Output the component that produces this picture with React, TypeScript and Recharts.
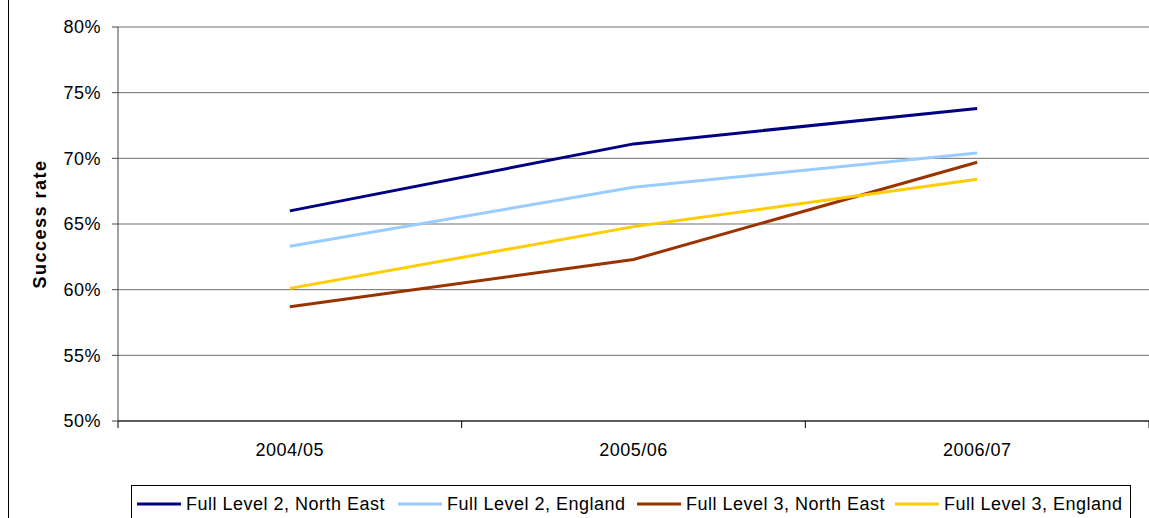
import { CartesianGrid, Legend, Line, LineChart, XAxis, YAxis } from "recharts";

// Values (success rate, %)
const YEARS = ["2004/05", "2005/06", "2006/07"];
const L2_NORTH_EAST = [66.0, 71.1, 73.8];
const L2_ENGLAND = [63.3, 67.8, 70.4];
const L3_NORTH_EAST = [58.7, 62.3, 69.7];
const L3_ENGLAND = [60.1, 64.8, 68.4];
const Y_TICKS = [50, 55, 60, 65, 70, 75, 80];
// whole numbers = category boundaries (tick marks), halves = category centres (labels)
const X_TICKS = [0, 0.5, 1, 1.5, 2, 2.5, 3];

const SERIES = [
  { key: "l2ne", name: "Full Level 2, North East", color: "#000080", values: L2_NORTH_EAST },
  { key: "l2en", name: "Full Level 2, England", color: "#99ccff", values: L2_ENGLAND },
  { key: "l3ne", name: "Full Level 3, North East", color: "#993300", values: L3_NORTH_EAST },
  { key: "l3en", name: "Full Level 3, England", color: "#ffcc00", values: L3_ENGLAND },
];

const data = YEARS.map((year, i) => {
  const row: Record<string, string | number> = { x: i + 0.5, year };
  for (const s of SERIES) row[s.key] = s.values[i];
  return row;
});

const FONT = "'Liberation Sans', Arial, sans-serif";
const LEGEND_OFFSETS = [6, 267, 506, 764];

function YearTick(props: any) {
  const { x, y, payload } = props;
  const v = payload.value as number;
  if (Number.isInteger(v)) {
    return <line x1={x} x2={x} y1={y - 7} y2={y} stroke="#000" strokeWidth={1} />;
  }
  return (
    <text x={x} y={y + 28} textAnchor="middle" fontSize={18} fill="#000">
      {YEARS[Math.floor(v)]}
    </text>
  );
}

function BoxLegend() {
  return (
    <div style={{ position: "relative", height: 40, border: "1px solid #000", boxSizing: "border-box", background: "#fff" }}>
      {SERIES.map((s, i) => (
        <div
          key={s.key}
          style={{ position: "absolute", left: LEGEND_OFFSETS[i] - 1, top: 4, display: "flex", alignItems: "center", height: 28, whiteSpace: "nowrap" }}
        >
          <svg width={44} height={4} style={{ display: "block" }}>
            <line x1={0} x2={44} y1={2} y2={2} stroke={s.color} strokeWidth={3} />
          </svg>
          <span style={{ marginLeft: 5, fontSize: 18, color: "#000" }}>{s.name}</span>
        </div>
      ))}
    </div>
  );
}

export default function App() {
  return (
    <div style={{ position: "absolute", left: 0, top: 0, width: 1149, height: 518, fontFamily: FONT, letterSpacing: 0.5, background: "#fff", overflow: "hidden" }}>
      <div style={{ position: "absolute", left: 8, top: 0, width: 1, height: 518, background: "#000" }} />
      <LineChart width={1149} height={518} data={data} margin={{ top: 27, right: 0, left: 0, bottom: 0 }}>
        <CartesianGrid horizontal vertical={false} stroke="#6e6e6e" />
        <XAxis
          dataKey="x"
          type="number"
          domain={[0, 3]}
          ticks={X_TICKS}
          interval={0}
          height={97}
          tickSize={7}
          tickMargin={0}
          tickLine={false}
          axisLine={{ stroke: "#000" }}
          tick={<YearTick />}
        />
        <YAxis
          domain={[50, 80]}
          ticks={Y_TICKS}
          interval={0}
          width={118}
          tickSize={6}
          tickMargin={11}
          tickFormatter={(v: number) => `${v}%`}
          tick={{ fill: "#000", fontSize: 18 }}
          axisLine={{ stroke: "#444" }}
          tickLine={{ stroke: "#444" }}
          label={{ value: "Success rate", angle: -90, position: "center", dx: -19, fontSize: 18, fontWeight: "bold", fill: "#000", style: { letterSpacing: 1.5 } }}
        />
        <Legend
          layout="horizontal"
          verticalAlign="middle"
          align="center"
          wrapperStyle={{ left: 131, top: 485, width: 1000, height: 40 }}
          content={() => <BoxLegend />}
        />
        {SERIES.map((s) => (
          <Line
            key={s.key}
            type="linear"
            dataKey={s.key}
            name={s.name}
            stroke={s.color}
            strokeWidth={3}
            dot={false}
            activeDot={false}
            isAnimationActive={false}
          />
        ))}
      </LineChart>
    </div>
  );
}
